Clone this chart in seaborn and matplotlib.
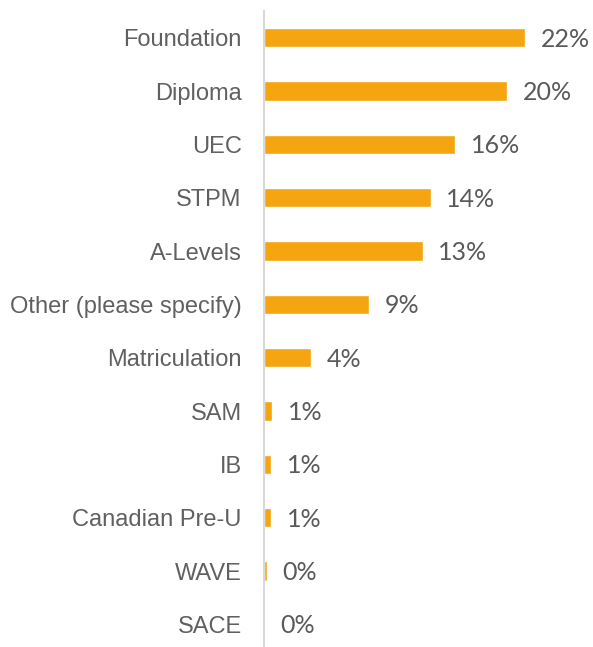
import numpy as np
import pandas as pd

import matplotlib
matplotlib.use('Agg')
import matplotlib.pyplot as plt
import seaborn as sns

# data
qualifications = ['Foundation', 'Diploma', 'UEC', 'STPM', 'A-Levels',
                  'Other (please specify)', 'Matriculation', 'SAM', 'IB',
                  'Canadian Pre-U', 'WAVE', 'SACE']
shares = [21.6, 20.1, 15.8, 13.8, 13.1, 8.7, 3.9, 0.7, 0.6, 0.6, 0.25, 0.1]

df = pd.DataFrame({'qualification': qualifications, 'share': shares})

sns.set_style('white')
plt.rcParams['font.family'] = ['Liberation Sans', 'DejaVu Sans']

fig = plt.figure(figsize=(5.93, 6.47), dpi=100)
ax = fig.add_axes([264 / 593, -4 / 647, 300 / 593, 640 / 647])

sns.barplot(data=df, x='share', y='qualification', color='#F5A50F',
            saturation=1, width=0.36, ax=ax)

# value labels
for i, v in enumerate(df['share']):
    ax.annotate(f'{v:.0f}%', (v, i), xytext=(11, -1), textcoords='offset points',
                va='center', ha='left', fontsize=18, color='#5A5A5A',
                family=['Lato', 'DejaVu Sans'])

ax.set_xlim(0, 300 / 12.1)
ax.set_ylim(11.5, -0.5)
ax.set_xlabel('')
ax.set_ylabel('')
ax.set_xticks([])
ax.tick_params(axis='y', length=0, pad=16, labelsize=17, labelcolor='#606060')

for s in ['top', 'right', 'bottom']:
    ax.spines[s].set_visible(False)
ax.spines['left'].set_color('#D9D9D9')
ax.spines['left'].set_linewidth(1.5)

fig.savefig('out.png', dpi=100)
